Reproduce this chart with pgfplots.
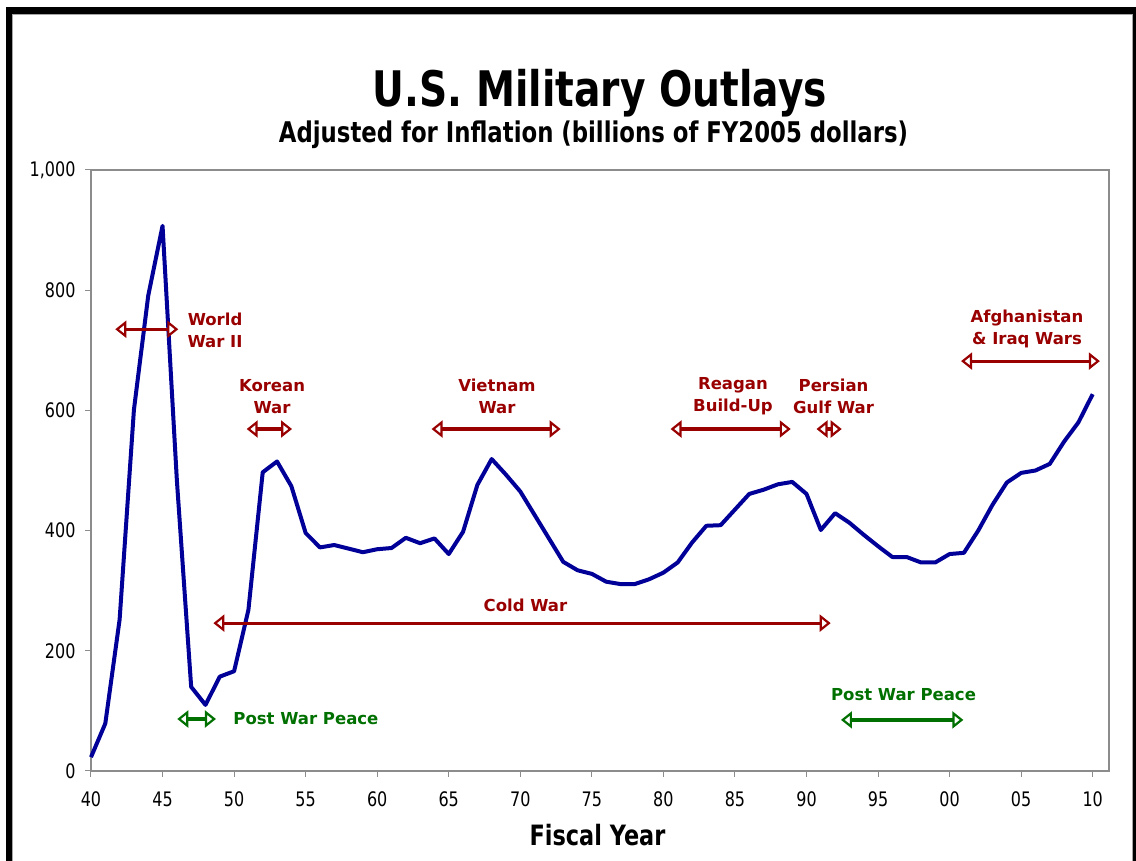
\documentclass[border=0pt]{standalone}
\usepackage{fontspec}
\setmainfont{DejaVu Sans}
\newfontfamily\condf{DejaVu Sans}[FakeStretch=0.8]
\usepackage{pgfplots}
\pgfplotsset{compat=1.18}
\usetikzlibrary{arrows.meta}
\definecolor{navy}{RGB}{0,0,153}
\definecolor{dred}{RGB}{153,0,0}
\definecolor{dgreen}{RGB}{0,112,0}
\definecolor{bordergray}{RGB}{140,140,140}
\pgfplotstableread{
year value
1940 23
1941 79
1942 252
1943 601
1944 791
1945 907
1946 484
1947 140
1948 110
1949 157
1950 166
1951 268
1952 497
1953 515
1954 474
1955 396
1956 372
1957 376
1958 370
1959 364
1960 369
1961 371
1962 388
1963 379
1964 387
1965 361
1966 398
1967 476
1968 519
1969 493
1970 465
1971 426
1972 387
1973 348
1974 334
1975 328
1976 315
1977 311
1978 311
1979 319
1980 330
1981 347
1982 380
1983 408
1984 409
1985 435
1986 461
1987 468
1988 477
1989 481
1990 461
1991 401
1992 429
1993 413
1994 393
1995 374
1996 356
1997 356
1998 347
1999 347
2000 361
2001 363
2002 400
2003 443
2004 480
2005 496
2006 500
2007 511
2008 548
2009 580
2010 627
}\outlays
\tikzset{
  warr/.style={line width=3.2pt, draw=#1,
    {Triangle[open,fill=white,length=11pt,width=17pt,line width=2.2pt]}-{Triangle[open,fill=white,length=11pt,width=17pt,line width=2.2pt]}},
  lab/.style={font=\bfseries\fontsize{16.5}{22}\selectfont, text=#1, align=center},
}
\begin{document}
\begin{tikzpicture}[x=1pt,y=1pt]
\useasboundingbox (-91,-90) rectangle (1045,771);
\fill[black] (-85,-95) rectangle (-79,764);
\fill[black] (-85,757) rectangle (1050,764);
\fill[black] (1042,-95) rectangle (1050,764);
\draw[black!35, line width=1.2pt] (-78.2,-95) -- (-78.2,756.2) -- (1041.2,756.2) -- (1041.2,-95);
\begin{axis}[at={(0,0)}, anchor=south west, scale only axis,
  width=1018pt, height=601pt,
  xmin=1940, xmax=2011.14, ymin=0, ymax=1000,
  clip=false,
  axis line style={bordergray, line width=1.6pt},
  xtick={1940,1945,...,2010},
  xticklabels={40,45,50,55,60,65,70,75,80,85,90,95,00,05,10},
  ytick={0,200,...,1000},
  tick align=outside, major tick length=6pt,
  tick style={bordergray, line width=1pt},
  xtick pos=bottom, ytick pos=left,
  /pgf/number format/assume math mode=true,
  /pgf/number format/1000 sep={,},
  ticklabel style={font=\condf\fontsize{20}{22}\selectfont, text=black},
  xticklabel style={yshift=-11pt},
  yticklabel style={xshift=-6pt},
]
\addplot[navy, line width=4pt, line join=round] table[x=year, y=value] {\outlays};

\draw[warr=dred] (axis cs:1941.7,735) -- (axis cs:1946.1,735);
\node[lab=dred] at (axis cs:1948.67,733) {World\\War II};
\draw[warr=dred] (axis cs:1950.88,569) -- (axis cs:1954.05,569);
\node[lab=dred] at (axis cs:1952.65,623) {Korean\\War};
\draw[warr=dred] (axis cs:1963.8,569) -- (axis cs:1972.82,569);
\node[lab=dred] at (axis cs:1968.37,623) {Vietnam\\War};
\draw[warr=dred] (axis cs:1980.5,569) -- (axis cs:1988.9,569);
\node[lab=dred] at (axis cs:1984.86,623) {Reagan\\Build-Up};
\draw[warr=dred] (axis cs:1990.7,569) -- (axis cs:1992.46,569);
\node[lab=dred] at (axis cs:1991.89,623) {Persian\\Gulf War};
\draw[warr=dred] (axis cs:2000.8,682) -- (axis cs:2010.5,682);
\node[lab=dred] at (axis cs:2005.41,735) {Afghanistan\\\& Iraq Wars};
\draw[warr=dred] (axis cs:1948.55,246) -- (axis cs:1991.69,246);
\node[lab=dred] at (axis cs:1970.36,275) {Cold War};
\draw[warr=dgreen] (axis cs:1946.03,86.5) -- (axis cs:1948.73,86.5);
\node[lab=dgreen] at (axis cs:1955.02,86.5) {Post War Peace};
\draw[warr=dgreen] (axis cs:1992.41,85) -- (axis cs:2000.96,85);
\node[lab=dgreen] at (axis cs:1996.78,126.5) {Post War Peace};
\end{axis}
\node[anchor=base, font=\condf\bfseries\fontsize{49}{51}\selectfont] at (509,664) {U.S. Military Outlays};
\node[anchor=base, font=\condf\bfseries\fontsize{28.5}{30}\selectfont] at (502.5,628) {Adjusted for Inflation (billions of FY2005 dollars)};
\node[anchor=base, font=\condf\bfseries\fontsize{28}{30}\selectfont] at (506.5,-75) {Fiscal Year};
\end{tikzpicture}
\end{document}
